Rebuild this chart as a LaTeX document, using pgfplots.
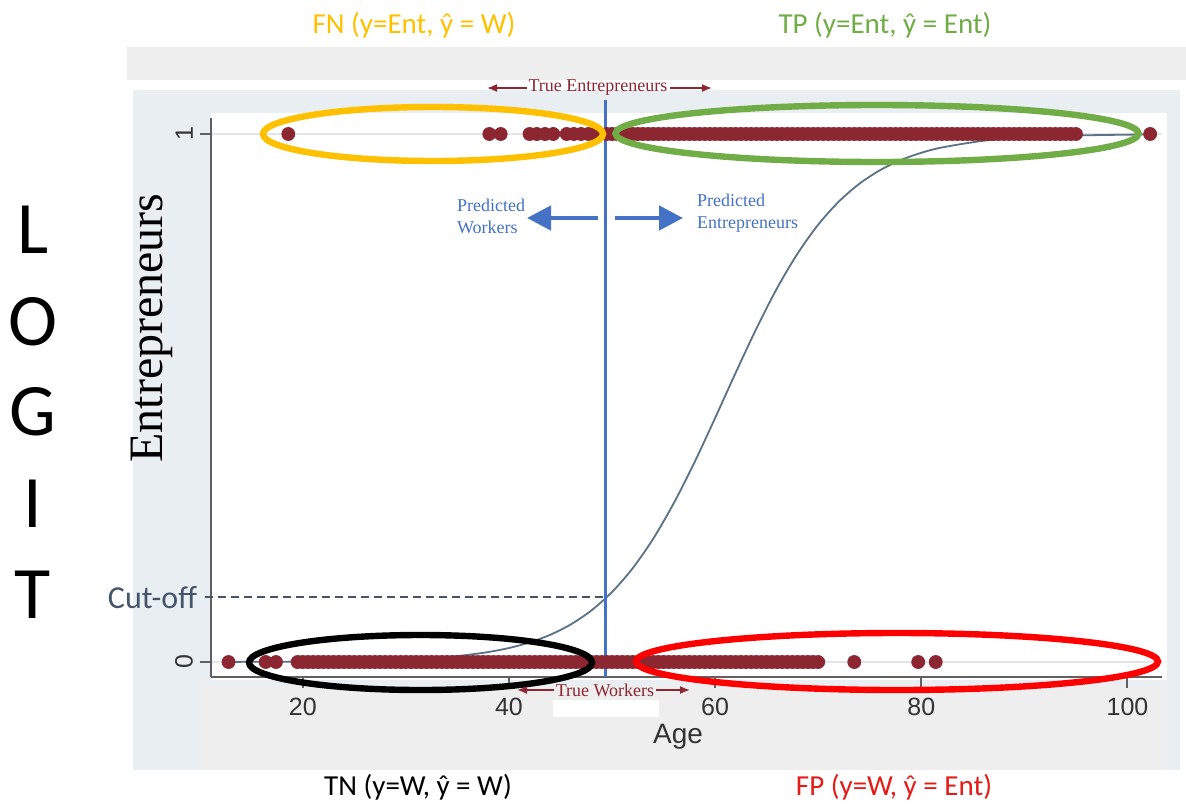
\documentclass[border=0pt]{standalone}
\usepackage{fontspec}
\setmainfont{Liberation Serif}
\newfontfamily\carlito{Carlito}
\newfontfamily\arialf{Liberation Sans}
\usepackage{pgfplots}
\pgfplotsset{compat=1.18}
\usetikzlibrary{arrows.meta}

\definecolor{panelblue}{HTML}{E8EEF2}
\definecolor{bandgrey}{HTML}{EEEEEE}
\definecolor{dotred}{RGB}{140,38,48}
\definecolor{fitline}{HTML}{5A7286}
\definecolor{cutblue}{HTML}{4472C4}
\definecolor{slate}{HTML}{44546A}
\definecolor{fnyellow}{HTML}{FFC000}
\definecolor{tpgreen}{HTML}{70AD47}
\definecolor{fpred}{HTML}{E41B17}
\definecolor{axisgrey}{HTML}{606060}

\begin{document}
\begin{tikzpicture}
\useasboundingbox (0,0) rectangle (593pt,402.5pt);

% backgrounds (pixel units of the reference, origin top left)
\begin{scope}[x=0.5pt,y=-0.5pt,yshift=402.5pt]
  \fill[bandgrey] (127,47) rectangle (1186,80);
  \fill[panelblue] (133,90) rectangle (1180,770);
  \fill[bandgrey] (200,685) rectangle (1166,770);
  \fill[white] (211,113) rectangle (1167,680);
  \fill[white] (553,700) rectangle (659,717);
\end{scope}

\begin{axis}[
  at={(105.5pt,64pt)}, anchor=south west,
  width=475.5pt, height=279.5pt, scale only axis,
  xmin=11.1, xmax=103.35, ymin=-0.0284, ymax=1.0303,
  axis x line*=bottom, axis y line*=left,
  axis line style={axisgrey, line width=1pt, -},
  xtick={20,40,60,80,100}, ytick={0,1},
  tick align=outside, major tick length=5.5pt,
  tick style={axisgrey, line width=1pt},
  ymajorgrids, grid style={gray!20, line width=0.6pt},
  /pgf/number format/assume math mode=true,
  ticklabel style={font=\arialf\fontsize{12.5}{14}\selectfont, text=black!80},
  xticklabel style={yshift=-1.5pt},
  yticklabel style={rotate=90, anchor=south},
  clip=false,
]
% observed: entrepreneurs (y = 1)
\addplot[only marks, mark=*, mark size=3.25pt, mark options={draw=dotred, fill=dotred}] coordinates {
  (18.6,1) (38.1,1) (39.2,1) (42,1) (42.7,1) (43.5,1) (44.3,1) (45.6,1) (46.3,1) (47,1) (47.7,1) (48.4,1)
  (49.5,1) (50,1) (50.5,1) (51,1) (51.5,1) (52,1) (52.5,1) (53,1) (53.5,1) (54,1) (54.5,1)
  (55,1) (55.5,1) (56,1) (56.5,1) (57,1) (57.5,1) (58,1) (58.5,1) (59,1) (59.5,1)
  (60,1) (60.5,1) (61,1) (61.5,1) (62,1) (62.5,1) (63,1) (63.5,1) (64,1) (64.5,1)
  (65,1) (65.5,1) (66,1) (66.5,1) (67,1) (67.5,1) (68,1) (68.5,1) (69,1) (69.5,1)
  (70,1) (70.5,1) (71,1) (71.5,1) (72,1) (72.5,1) (73,1) (73.5,1) (74,1) (74.5,1)
  (75,1) (75.5,1) (76,1) (76.5,1) (77,1) (77.5,1) (78,1) (78.5,1) (79,1) (79.5,1)
  (80,1) (80.5,1) (81,1) (81.5,1) (82,1) (82.5,1) (83,1) (83.5,1) (84,1) (84.5,1)
  (85,1) (85.5,1) (86,1) (86.5,1) (87,1) (87.5,1) (88,1) (88.5,1) (89,1) (89.5,1)
  (90,1) (90.5,1) (91,1) (91.5,1) (92,1) (92.5,1) (93,1) (93.5,1) (94,1) (94.5,1)
  (95,1) (102.2,1)
};
% observed: workers (y = 0)
\addplot[only marks, mark=*, mark size=3.25pt, mark options={draw=dotred, fill=dotred}] coordinates {
  (12.8,0) (16.4,0) (17.4,0)
  (19.5,0) (20,0) (20.5,0) (21,0) (21.5,0) (22,0) (22.5,0) (23,0) (23.5,0) (24,0) (24.5,0)
  (25,0) (25.5,0) (26,0) (26.5,0) (27,0) (27.5,0) (28,0) (28.5,0) (29,0) (29.5,0)
  (30,0) (30.5,0) (31,0) (31.5,0) (32,0) (32.5,0) (33,0) (33.5,0) (34,0) (34.5,0)
  (35,0) (35.5,0) (36,0) (36.5,0) (37,0) (37.5,0) (38,0) (38.5,0) (39,0) (39.5,0)
  (40,0) (40.5,0) (41,0) (41.5,0) (42,0) (42.5,0) (43,0) (43.5,0) (44,0) (44.5,0)
  (45,0) (45.5,0) (46,0) (46.5,0) (47,0) (47.5,0) (48,0) (48.5,0) (49,0) (49.5,0)
  (50,0) (50.5,0) (51,0) (51.5,0) (52,0) (52.5,0) (53,0) (53.5,0) (54,0) (54.5,0)
  (55,0) (55.5,0) (56,0) (56.5,0) (57,0) (57.5,0) (58,0) (58.5,0) (59,0) (59.5,0)
  (60,0) (60.5,0) (61,0) (61.5,0) (62,0) (62.5,0) (63,0) (63.5,0) (64,0) (64.5,0)
  (65,0) (65.5,0) (66,0) (66.5,0) (67,0) (67.5,0) (68,0) (68.5,0) (69,0) (69.5,0)
  (70,0) (73.5,0) (79.7,0) (81.4,0)
};
% fitted logit probability
\addplot[fitline, line width=0.9pt, smooth, no marks] coordinates {
  (13,0.0003) (16,0.0004) (20,0.0009) (25,0.0020) (30,0.0048) (34,0.0096)
  (36,0.0135) (38,0.0189) (40,0.0265) (42,0.0370) (44,0.0515) (46,0.0712)
  (48,0.0977) (50,0.1326) (52,0.1775) (54,0.2336) (56,0.3012) (58,0.3782)
  (60,0.4621) (62,0.5481) (64,0.6313) (66,0.7077) (68,0.7736) (70,0.8283)
  (72,0.8720) (74,0.9059) (76,0.9315) (78,0.9505) (80,0.9644) (82,0.9745)
  (86,0.9871) (90,0.9935) (95,0.9972) (102,0.9992)
};
% cut-off
\addplot[slate, line width=0.8pt, dash pattern=on 4pt off 2.5pt] coordinates {(10.5,0.123) (49.4,0.123)};
\addplot[cutblue, line width=1.5pt] coordinates {(49.4,-0.0284) (49.4,1.064)};
\end{axis}

% annotations (pixel units of the reference)
\begin{scope}[x=0.5pt,y=-0.5pt,yshift=402.5pt]
  \draw[fnyellow, line width=3.2pt] (433,134) ellipse [x radius=85pt, y radius=13.5pt];
  \draw[tpgreen, line width=3.2pt] (877,133.5) ellipse [x radius=130.75pt, y radius=14.25pt];
  \draw[black, line width=3.2pt] (420.5,662.5) ellipse [x radius=85.75pt, y radius=13.75pt];
  \draw[red, line width=3.2pt] (897,661.5) ellipse [x radius=130.5pt, y radius=14.25pt];

  \node[text=fnyellow, font=\carlito\fontsize{14.5}{16}\selectfont] at (414,25) {FN (y=Ent, ŷ = W)};
  \node[text=tpgreen, font=\carlito\fontsize{14.5}{16}\selectfont] at (885,25) {TP (y=Ent, ŷ = Ent)};
  \node[text=black, font=\carlito\fontsize{14.5}{16}\selectfont] at (418,787) {TN (y=W, ŷ = W)};
  \node[text=fpred, font=\carlito\fontsize{14.5}{16}\selectfont] at (894,787) {FP (y=W, ŷ = Ent)};

  \foreach \l/\yy in {L/253, O/345, G/435, I/527, T/618}
    \node[anchor=base, font=\carlito\fontsize{37}{40}\selectfont] at (33,\yy) {\l};

  \node[anchor=east, text=slate, font=\carlito\fontsize{16}{18}\selectfont] at (204,598) {Cut-off};
  \node[rotate=90, font=\fontsize{24}{28}\selectfont] at (152,328) {Entrepreneurs};
  \node[text=black!80, font=\arialf\fontsize{14}{16}\selectfont] at (678,737) {Age};

  \node[text=dotred, font=\fontsize{9}{10}\selectfont] at (598,88) {True Entrepreneurs};
  \draw[dotred, line width=0.8pt, -{Latex[length=5pt,width=4pt]}] (527,88) -- (487,88);
  \draw[dotred, line width=0.8pt, -{Latex[length=5pt,width=4pt]}] (670,88) -- (712,88);
  \node[text=dotred, font=\fontsize{9}{10}\selectfont] at (605,690) {True Workers};
  \draw[dotred, line width=0.8pt, -{Latex[length=5pt,width=4pt]}] (554,690) -- (517,690);
  \draw[dotred, line width=0.8pt, -{Latex[length=5pt,width=4pt]}] (656,690) -- (690,690);

  \node[anchor=west, align=left, text=cutblue, font=\fontsize{9}{11}\selectfont] at (450,216) {Predicted\\Workers};
  \node[anchor=west, align=left, text=cutblue, font=\fontsize{9}{11}\selectfont] at (690,213) {Predicted\\Entrepreneurs};
  \draw[cutblue, line width=2.3pt, -{Triangle[length=12pt,width=12pt]}] (598,218) -- (527,218);
  \draw[cutblue, line width=2.3pt, -{Triangle[length=12pt,width=12pt]}] (615,218) -- (683,218);
\end{scope}
\end{tikzpicture}
\end{document}
